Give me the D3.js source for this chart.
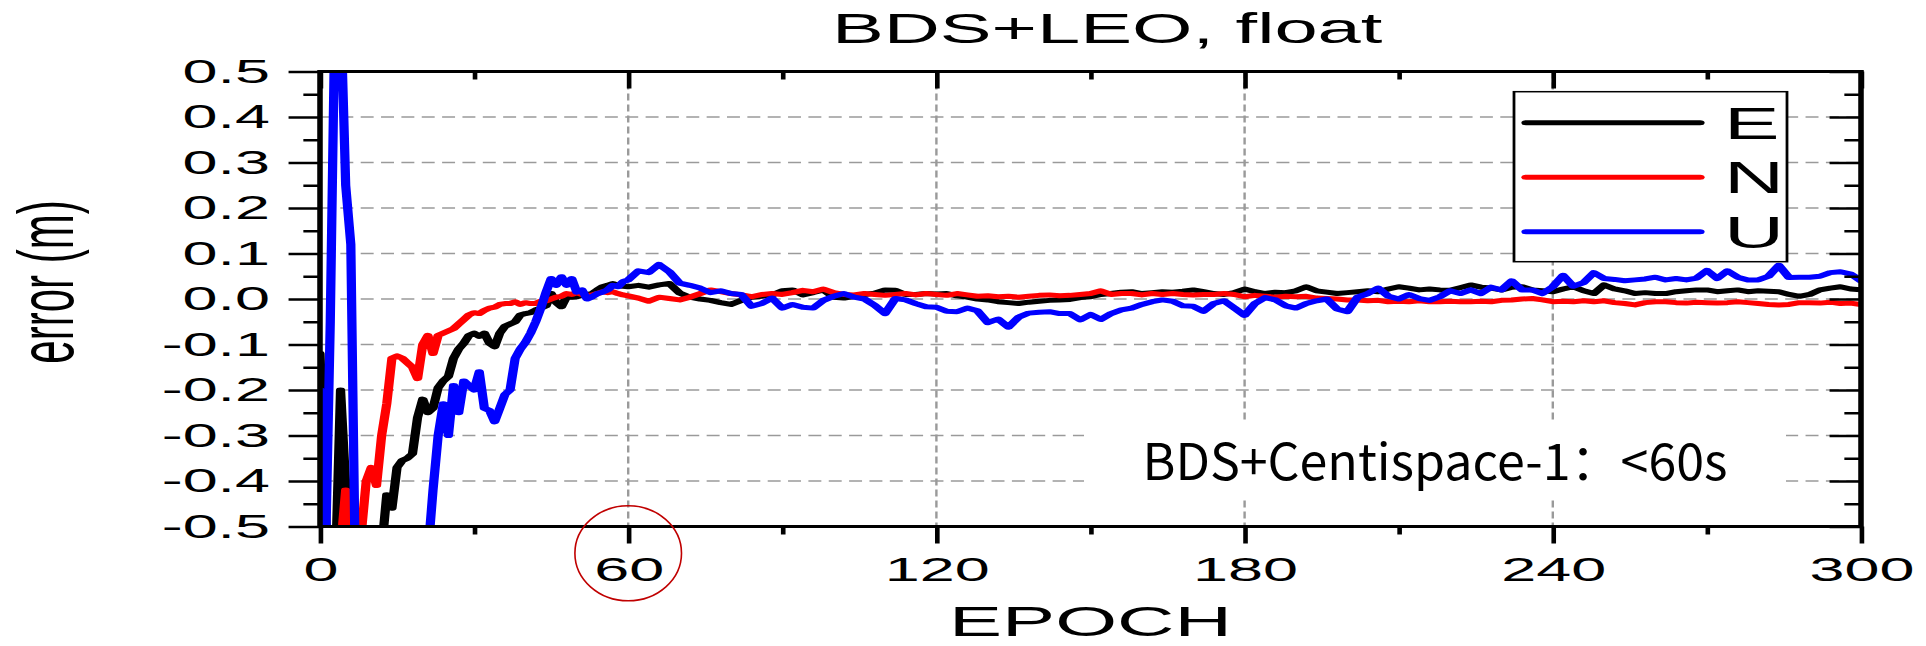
<!DOCTYPE html>
<html>
<head>
<meta charset="utf-8">
<script src="https://cdn.jsdelivr.net/npm/d3@7"></script>
<style>
  html, body { margin: 0; padding: 0; background: #fff; }
  svg { display: block; }
</style>
</head>
<body>
<svg id="chart" width="1926" height="646"></svg>
<script>
// ---- text ----
const chartTitle = "BDS+LEO, float";
const xTitle = "EPOCH";
const yTitle = "error (m)";
const noteText = "BDS+Centispace-1：<60s";

// ---- series ----
const seriesNames = ["E", "N", "U"];
const seriesColors = ["#000000", "#ff0000", "#0000ff"];

// ---- ticks ----
const xTicks = [0, 60, 120, 180, 240, 300];
const xMinorTicks = [30, 90, 150, 210, 270];
const yTicks = [-0.5, -0.4, -0.3, -0.2, -0.1, 0.0, 0.1, 0.2, 0.3, 0.4, 0.5];
const yMinorTicks = [-0.45, -0.35, -0.25, -0.15, -0.05, 0.05, 0.15, 0.25, 0.35, 0.45];
const highlightEpoch = 60;

// epochs: every epoch during convergence, every second epoch afterwards
const epochs = d3.range(0, 61).concat(d3.range(62, 301, 2));

const valuesE = [
  -0.12, -0.45, -0.70, -0.60, -0.20, -0.41, -0.70, -0.75, -0.75, -0.75,
  -0.70, -0.65, -0.55, -0.43, -0.46, -0.37, -0.355, -0.35, -0.34, -0.26,
  -0.22, -0.25, -0.24, -0.195, -0.18, -0.17, -0.13, -0.11, -0.097, -0.08,
  -0.075, -0.082, -0.075, -0.097, -0.105, -0.075, -0.06, -0.055, -0.05, -0.035,
  -0.032, -0.03, -0.024, -0.02, -0.015, 0.012, -0.008, -0.017, 0.005, 0.004,
  0.005, 0.008, 0.01, 0.012, 0.02, 0.027, 0.03, 0.034, 0.03, 0.028,
  0.027,
  0.030, 0.026, 0.031, 0.034, 0.013, 0.004, 0.000, -0.003, -0.008, -0.012,
  -0.003, 0.004, 0.006, 0.009, 0.018, 0.020, 0.009, 0.014, 0.020, 0.004,
  0.002, 0.006, 0.010, 0.013, 0.020, 0.019, 0.010, 0.010, 0.012, 0.011,
  0.012, 0.007, 0.004, 0.000, -0.002, -0.006, -0.008, -0.010, -0.007, -0.005,
  -0.003, -0.002, -0.001, 0.003, 0.005, 0.010, 0.012, 0.015, 0.016, 0.012,
  0.014, 0.016, 0.015, 0.017, 0.020, 0.016, 0.012, 0.010, 0.014, 0.022,
  0.016, 0.012, 0.015, 0.014, 0.018, 0.027, 0.018, 0.015, 0.012, 0.014,
  0.016, 0.018, 0.016, 0.022, 0.027, 0.024, 0.020, 0.022, 0.020, 0.019,
  0.025, 0.031, 0.026, 0.024, 0.020, 0.026, 0.027, 0.020, 0.018, 0.016,
  0.022, 0.027, 0.018, 0.012, 0.031, 0.022, 0.018, 0.012, 0.014, 0.012,
  0.012, 0.016, 0.018, 0.020, 0.020, 0.016, 0.018, 0.020, 0.016, 0.018,
  0.017, 0.016, 0.010, 0.006, 0.010, 0.020, 0.024, 0.027, 0.022, 0.020
];

const valuesN = [
  -0.80, -0.80, -0.75, -0.70, -0.55, -0.42, -0.62, -0.62, -0.52, -0.40,
  -0.37, -0.41, -0.30, -0.23, -0.13, -0.125, -0.13, -0.14, -0.15, -0.175,
  -0.10, -0.08, -0.12, -0.08, -0.075, -0.07, -0.065, -0.055, -0.045, -0.035,
  -0.03, -0.032, -0.025, -0.02, -0.018, -0.012, -0.01, -0.01, -0.006, -0.012,
  -0.008, -0.01, -0.01, -0.005, -0.004, 0.0, 0.004, 0.006, 0.012, 0.01,
  0.014, 0.01, 0.008, 0.009, 0.012, 0.016, 0.014, 0.016, 0.012, 0.009,
  0.007,
  0.002, -0.005, 0.004, 0.001, -0.002, 0.004, 0.012, 0.020, 0.016, 0.012,
  0.009, 0.005, 0.010, 0.012, 0.010, 0.014, 0.019, 0.016, 0.022, 0.014,
  0.010, 0.009, 0.012, 0.010, 0.008, 0.010, 0.012, 0.009, 0.012, 0.010,
  0.008, 0.012, 0.009, 0.006, 0.007, 0.005, 0.006, 0.004, 0.006, 0.008,
  0.009, 0.007, 0.008, 0.010, 0.012, 0.018, 0.010, 0.012, 0.012, 0.009,
  0.012, 0.010, 0.012, 0.010, 0.009, 0.010, 0.010, 0.012, 0.010, 0.005,
  0.008, 0.006, 0.004, 0.006, 0.005, 0.006, 0.002, 0.001, 0.000, -0.002,
  -0.002, -0.004, -0.003, -0.006, -0.005, -0.006, -0.004, -0.006, -0.006, -0.005,
  -0.006, -0.006, -0.005, -0.006, -0.003, -0.002, 0.000, 0.001, -0.002, -0.006,
  -0.005, -0.006, -0.004, -0.006, -0.004, -0.008, -0.010, -0.013, -0.008, -0.006,
  -0.006, -0.008, -0.009, -0.007, -0.008, -0.009, -0.008, -0.006, -0.008, -0.010,
  -0.012, -0.013, -0.012, -0.008, -0.008, -0.009, -0.007, -0.010, -0.009, -0.012
];

const valuesU = [
  -0.20, -0.60, -0.05, 0.70, 0.65, 0.25, 0.12, -0.70, -0.80, -0.80,
  -0.80, -0.80, -0.80, -0.80, -0.80, -0.80, -0.75, -0.70, -0.65, -0.62,
  -0.60, -0.56, -0.42, -0.30, -0.23, -0.30, -0.19, -0.25, -0.18, -0.19,
  -0.20, -0.16, -0.24, -0.245, -0.27, -0.24, -0.21, -0.20, -0.13, -0.11,
  -0.095, -0.075, -0.05, -0.02, 0.015, 0.045, 0.03, 0.049, 0.03, 0.045,
  0.015, 0.02, 0.0, 0.005, 0.012, 0.015, 0.02, 0.03, 0.027, 0.038,
  0.042,
  0.062, 0.058, 0.076, 0.060, 0.035, 0.030, 0.024, 0.014, 0.018, 0.012,
  0.010, -0.016, -0.010, 0.002, -0.020, -0.012, -0.018, -0.020, -0.003, 0.006,
  0.012, 0.004, 0.000, -0.014, -0.032, 0.001, -0.002, -0.010, -0.017, -0.018,
  -0.027, -0.028, -0.020, -0.026, -0.052, -0.044, -0.062, -0.040, -0.031, -0.029,
  -0.028, -0.032, -0.032, -0.046, -0.034, -0.045, -0.032, -0.024, -0.020, -0.012,
  -0.006, -0.002, -0.005, -0.015, -0.016, -0.027, -0.010, -0.004, -0.020, -0.036,
  -0.010, 0.003, -0.002, -0.015, -0.020, -0.010, -0.004, 0.000, -0.022, -0.028,
  0.004, 0.012, 0.024, 0.006, 0.000, 0.010, 0.001, -0.003, 0.005, 0.018,
  0.012, 0.020, 0.012, 0.026, 0.020, 0.040, 0.020, 0.020, 0.012, 0.027,
  0.052, 0.028, 0.036, 0.058, 0.045, 0.043, 0.040, 0.042, 0.044, 0.048,
  0.042, 0.045, 0.042, 0.046, 0.063, 0.045, 0.062, 0.048, 0.042, 0.042,
  0.050, 0.074, 0.047, 0.048, 0.048, 0.050, 0.058, 0.060, 0.055, 0.040
];

const seriesValues = [valuesE, valuesN, valuesU];

// ---- layout ----
// The figure is drawn in a narrow coordinate space and stretched sideways,
// so glyphs, ticks and vertical strokes come out wide.
const SX = 1.85;
const FONT = "'Liberation Sans', Arial, Helvetica, sans-serif";
const NOTE_FONT = "'Noto Sans CJK SC', 'Noto Sans', sans-serif";

const x = d3.scaleLinear().domain([0, 300]).range([320 / SX, 1861 / SX]);
const y = d3.scaleLinear().domain([-0.5, 0.5]).range([526.5, 71.5]);

const svg = d3.select("#chart");

// ---- grid ----
const gGrid = svg.append("g").attr("transform", `scale(${SX},1)`);
const gridStyle = sel => sel.attr("stroke", "#9a9a9a").attr("stroke-width", 1.3)
  .attr("stroke-dasharray", "7,4").attr("fill", "none");

gGrid.selectAll("line.gy")
  .data(yTicks.filter(v => v > -0.5 && v < 0.5))
  .join("line").attr("class", "gy")
  .attr("x1", x(0)).attr("x2", x(300))
  .attr("y1", d => y(d)).attr("y2", d => y(d))
  .call(gridStyle);

gGrid.selectAll("line.gx")
  .data(xTicks.filter(v => v > 0 && v < 300))
  .join("line").attr("class", "gx")
  .attr("x1", d => x(d)).attr("x2", d => x(d))
  .attr("y1", y(0.5)).attr("y2", y(-0.5))
  .call(gridStyle);

// white panel behind the convergence note
svg.append("rect")
  .attr("x", 1084).attr("y", 422).attr("width", 702).attr("height", 78)
  .attr("fill", "#ffffff");

// ---- main stretched layer ----
const g = svg.append("g").attr("transform", `scale(${SX},1)`);

g.append("clipPath").attr("id", "plotClip")
  .append("rect")
  .attr("x", x(0)).attr("y", y(0.5))
  .attr("width", x(300) - x(0)).attr("height", y(-0.5) - y(0.5));

const line = d3.line()
  .x((d, i) => x(epochs[i]))
  .y(d => y(d));

g.append("g").attr("clip-path", "url(#plotClip)")
  .selectAll("path.series")
  .data(seriesValues)
  .join("path").attr("class", "series")
  .attr("d", d => line(d))
  .attr("fill", "none")
  .attr("stroke", (d, i) => seriesColors[i])
  .attr("stroke-width", 5)
  .attr("stroke-linejoin", "round")
  .attr("stroke-linecap", "round");

// ---- axes ----
const yFmt = d => d3.format(".1f")(d).replace("\u2212", "-");

function styleAxis(sel, labelSize) {
  sel.select(".domain").remove();
  sel.selectAll(".tick line").attr("stroke", "#000").attr("stroke-width", 2.5);
  sel.selectAll(".tick text")
    .attr("font-family", FONT).attr("font-size", labelSize).attr("fill", "#000");
}

g.append("g").attr("transform", `translate(0,${y(-0.5)})`)
  .call(d3.axisBottom(x).tickValues(xTicks).tickSize(17).tickPadding(13.5).tickFormat(d3.format("d")))
  .call(s => styleAxis(s, 34));
g.append("g").attr("transform", `translate(0,${y(-0.5)})`)
  .call(d3.axisBottom(x).tickValues(xMinorTicks).tickSize(8).tickFormat(""))
  .call(s => styleAxis(s, 34));

g.append("g").attr("transform", `translate(0,${y(0.5)})`)
  .call(d3.axisTop(x).tickValues(xTicks).tickSize(-17).tickFormat(""))
  .call(s => styleAxis(s, 34));
g.append("g").attr("transform", `translate(0,${y(0.5)})`)
  .call(d3.axisTop(x).tickValues(xMinorTicks).tickSize(-8).tickFormat(""))
  .call(s => styleAxis(s, 34));

g.append("g").attr("transform", `translate(${x(0)},0)`)
  .call(d3.axisLeft(y).tickValues(yTicks).tickSize(17).tickPadding(10).tickFormat(yFmt))
  .call(s => styleAxis(s, 34));
g.append("g").attr("transform", `translate(${x(0)},0)`)
  .call(d3.axisLeft(y).tickValues(yMinorTicks).tickSize(9).tickFormat(""))
  .call(s => styleAxis(s, 34));

g.append("g").attr("transform", `translate(${x(300)},0)`)
  .call(d3.axisRight(y).tickValues(yTicks).tickSize(-17).tickFormat(""))
  .call(s => styleAxis(s, 34));
g.append("g").attr("transform", `translate(${x(300)},0)`)
  .call(d3.axisRight(y).tickValues(yMinorTicks).tickSize(-9).tickFormat(""))
  .call(s => styleAxis(s, 34));

// frame
g.append("rect")
  .attr("x", x(0)).attr("y", y(0.5))
  .attr("width", x(300) - x(0)).attr("height", y(-0.5) - y(0.5))
  .attr("fill", "none").attr("stroke", "#000").attr("stroke-width", 3);

// ---- titles ----
g.append("text")
  .attr("x", x(150) + 9).attr("y", 43.5)
  .attr("text-anchor", "middle")
  .attr("font-family", FONT).attr("font-size", 42).attr("fill", "#000")
  .text(chartTitle);

g.append("text")
  .attr("x", x(150)).attr("y", 636)
  .attr("text-anchor", "middle")
  .attr("font-family", FONT).attr("font-size", 43).attr("fill", "#000")
  .text(xTitle);

g.append("text")
  .attr("transform", `translate(39.3,282) rotate(-90)`)
  .attr("text-anchor", "middle")
  .attr("font-family", FONT).attr("font-size", 42).attr("fill", "#000")
  .text(yTitle);

// ---- legend ----
const legend = g.append("g");
legend.append("rect")
  .attr("x", 1514 / SX).attr("y", 91.7)
  .attr("width", (1787 - 1514) / SX).attr("height", 170)
  .attr("fill", "#fff").attr("stroke", "#000").attr("stroke-width", 1.5);

const items = legend.selectAll("g.item")
  .data(seriesNames)
  .join("g").attr("class", "item")
  .attr("transform", (d, i) => `translate(0,${122.7 + i * 54.5})`);

items.append("line")
  .attr("x1", 1526 / SX).attr("x2", 1700 / SX)
  .attr("y1", 0).attr("y2", 0)
  .attr("stroke", (d, i) => seriesColors[i])
  .attr("stroke-width", 5)
  .attr("stroke-linecap", "round");

items.append("text")
  .attr("x", 1724 / SX).attr("y", 16)
  .attr("font-family", FONT).attr("font-size", 45).attr("fill", "#000")
  .text(d => d);

// ---- annotations (unstretched) ----
svg.append("text")
  .attr("x", 1142.5).attr("y", 480)
  .attr("font-family", NOTE_FONT).attr("font-size", 50).attr("fill", "#000")
  .attr("textLength", 585).attr("lengthAdjust", "spacingAndGlyphs")
  .text(noteText);

svg.append("ellipse")
  .attr("cx", x(highlightEpoch) * SX).attr("cy", 553.3)
  .attr("rx", 53.3).attr("ry", 47.5)
  .attr("fill", "none").attr("stroke", "#c00000").attr("stroke-width", 1.6);
</script>
</body>
</html>
